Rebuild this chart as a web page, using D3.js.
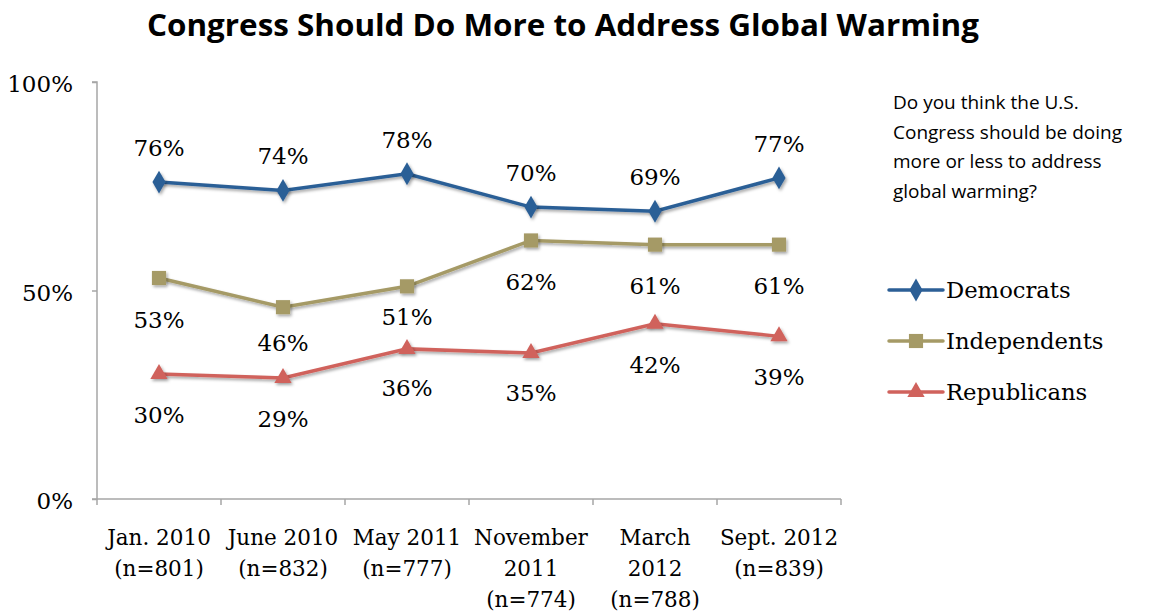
<!DOCTYPE html>
<html><head><meta charset="utf-8">
<script src="https://cdn.jsdelivr.net/npm/d3@7"></script>
<style>body{margin:0;background:#fff}svg{display:block}</style>
</head><body><svg id="c" width="1149" height="614"></svg>
<script>
const categories = [["Jan. 2010","(n=801)"],["June 2010","(n=832)"],["May 2011","(n=777)"],["November","2011","(n=774)"],["March","2012","(n=788)"],["Sept. 2012","(n=839)"]];
const democrats = [76,74,78,70,69,77];
const independents = [53,46,51,62,61,61];
const republicans = [30,29,36,35,42,39];
const yTicks = [0,50,100];
const seriesNames = ["Democrats","Independents","Republicans"];

const svg = d3.select("#c");
const serif = "'DejaVu Serif', 'Liberation Serif', serif";
const M = {l:97, r:841, t:82, b:499};
const x = d3.scaleBand().domain(d3.range(categories.length)).range([M.l, M.r]);
const y = d3.scaleLinear().domain([0,100]).range([M.b, M.t]);

const defs = svg.append("defs");
const f = defs.append("filter").attr("id","sh").attr("x","-50%").attr("y","-50%").attr("width","200%").attr("height","200%");
f.append("feDropShadow").attr("dx",1.5).attr("dy",2).attr("stdDeviation",1.5).attr("flood-color","#000").attr("flood-opacity",0.35);

// title
svg.append("text").attr("x",563).attr("y",36).attr("text-anchor","middle")
  .attr("font-family","'Open Sans', sans-serif").attr("font-weight","bold").attr("font-size",30)
  .attr("textLength",832).attr("lengthAdjust","spacingAndGlyphs")
  .text("Congress Should Do More to Address Global Warming");

// y axis
const ya = svg.append("g").attr("transform",`translate(${M.l},0)`)
  .call(d3.axisLeft(y).tickValues(yTicks).tickSize(5).tickFormat(d=>d+"%"));
ya.select(".domain").attr("stroke","#a6a6a6").attr("stroke-width",1.5).attr("d",`M-5,${M.t}H0V${M.b}H-5`);
ya.selectAll(".tick line").attr("stroke","#a6a6a6").attr("stroke-width",1.5);
ya.selectAll(".tick text").attr("font-family",serif).attr("font-size",23).attr("fill","#000").attr("x",-24).attr("dy","0.42em");

// x axis
const xa = svg.append("g").attr("transform",`translate(0,${M.b})`);
xa.append("line").attr("x1",M.l).attr("x2",M.r).attr("stroke","#a6a6a6").attr("stroke-width",1.5);
d3.range(categories.length+1).forEach(i=>{
  const xx = i<categories.length ? x(i) : M.r;
  xa.append("line").attr("x1",xx).attr("x2",xx).attr("y1",0).attr("y2",6).attr("stroke","#a6a6a6").attr("stroke-width",1.5);
});
categories.forEach((lines,i)=>{
  const t = xa.append("text").attr("text-anchor","middle").attr("font-family",serif).attr("font-size",21.5).attr("fill","#000");
  lines.forEach((s,j)=>t.append("tspan").attr("x",x(i)+x.bandwidth()/2).attr("y",46+j*31).text(s));
});

const cx = i => x(i)+x.bandwidth()/2;
const series = [
  {name:seriesNames[0], data:democrats, color:"#2c5f96", sym:d3.symbolDiamond, size:150, ldy:[-26,-26,-26,-26,-26,-26]},
  {name:seriesNames[1], data:independents, color:"#a59a66", sym:d3.symbolSquare, size:200, ldy:[50,44,39,50,49,49]},
  {name:seriesNames[2], data:republicans, color:"#d0625c", sym:d3.symbolTriangle, size:130, ldy:[49,49,47,48,49,49]}
];
const line = d3.line().x((d,i)=>cx(i)).y(d=>y(d));
series.forEach(s=>{
  const g = svg.append("g");
  g.append("path").datum(s.data).attr("d",line).attr("fill","none").attr("stroke",s.color).attr("stroke-width",3.5).attr("filter","url(#sh)");
  g.selectAll("path.m").data(s.data).join("path").attr("class","m")
    .attr("d",d3.symbol().type(s.sym).size(s.size))
    .attr("transform",(d,i)=>`translate(${cx(i)},${y(d)})`).attr("fill",s.color).attr("filter","url(#sh)");
  g.selectAll("text").data(s.data).join("text").attr("x",(d,i)=>cx(i)).attr("y",(d,i)=>y(d)+s.ldy[i])
    .attr("text-anchor","middle").attr("font-family",serif).attr("font-size",23).attr("fill","#000").text(d=>d+"%");
});

// note
const note = ["Do you think the U.S.","Congress should be doing","more or less to address","global warming?"];
const nt = svg.append("text").attr("font-family","'Open Sans', sans-serif").attr("font-size",19).attr("fill","#000");
note.forEach((s,j)=>nt.append("tspan").attr("x",893).attr("y",109+j*29.5).text(s));

// legend
series.forEach((s,i)=>{
  const ly = 290 + i*51;
  const g = svg.append("g");
  g.append("line").attr("x1",889).attr("x2",943).attr("y1",ly).attr("y2",ly).attr("stroke",s.color).attr("stroke-width",3.5).attr("stroke-linecap","round");
  g.append("path").attr("d",d3.symbol().type(s.sym).size(s.size)).attr("transform",`translate(916,${ly})`).attr("fill",s.color);
  g.append("text").attr("x",946).attr("y",ly).attr("dy","0.35em").attr("font-family",serif).attr("font-size",22.7).attr("fill","#000").text(s.name);
});
</script></body></html>
